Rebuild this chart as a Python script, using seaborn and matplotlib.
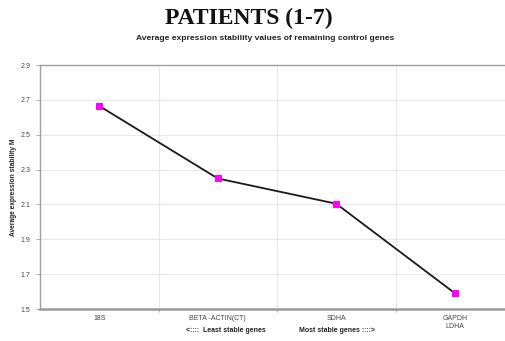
import matplotlib
matplotlib.use("Agg")
import matplotlib.pyplot as plt
import seaborn as sns
import pandas as pd

genes = ["18S", "BETA -ACTIN(CT)", "SDHA", "GAPDH\nLDHA"]
stability_m = [2.665, 2.249, 2.104, 1.591]
y_ticks = [1.5, 1.7, 1.9, 2.1, 2.3, 2.5, 2.7, 2.9]

sns.set_theme(style="white")
plt.rcParams["font.family"] = ["Liberation Sans", "DejaVu Sans"]

df = pd.DataFrame({"gene": genes, "M": stability_m})

fig = plt.figure(figsize=(5.05, 3.41), dpi=100)
ax = fig.add_axes([40 / 505, 1 - 309 / 341, 474 / 505, 244 / 341])

sns.lineplot(data=df, x="gene", y="M", ax=ax, color="#1a1a1a", linewidth=1.3,
             marker="s", markersize=4.5, markerfacecolor="#ff00ff",
             markeredgecolor="#ff00ff", sort=False)

ax.set_xlim(-0.5, 3.5)
ax.set_ylim(1.5, 2.9)
ax.set_yticks(y_ticks)
ax.set_yticklabels([f"{v:.1f}" for v in y_ticks])
ax.set_xticks(range(len(genes)))
ax.set_xticklabels(genes)
ax.set_xticks([0.5, 1.5, 2.5], minor=True)

ax.grid(False)
for v in y_ticks[1:-1]:
    ax.axhline(v, color="#e8e8e8", linewidth=0.8, zorder=0)
for b in [0.5, 1.5, 2.5]:
    ax.axvline(b, color="#e8e8e8", linewidth=0.8, zorder=0)

for side in ["left", "top", "right"]:
    ax.spines[side].set_color("#a0a0a0")
    ax.spines[side].set_linewidth(1.0)
ax.spines["bottom"].set_color("#9a9a9a")
ax.spines["bottom"].set_linewidth(1.8)

ax.tick_params(axis="y", which="major", length=3, width=0.6, color="#a0a0a0",
               labelsize=5, labelcolor="#444444", pad=4, left=True)
ax.tick_params(axis="x", which="major", length=0, labelsize=5,
               labelcolor="#444444", pad=4)
ax.tick_params(axis="x", which="minor", length=2, width=0.6, color="#a0a0a0",
               bottom=True)

ax.set_xlabel("")
ax.set_ylabel("Average expression stability M", fontsize=4.8,
              fontweight="bold", color="#222222")
ax.yaxis.set_label_coords((17 - 40) / 474, 0.5)

fig.text(249 / 505, 1 - 18 / 341, "PATIENTS (1-7)", ha="center", va="center",
         fontsize=17, fontweight="bold", family=["Liberation Serif", "DejaVu Serif"],
         color="#111111")
fig.text(265 / 505, 1 - 39 / 341,
         "Average expression stability values of remaining control genes",
         ha="center", va="center", fontsize=6.1, fontweight="bold",
         color="#222222")
fig.text(226 / 505, 1 - 330 / 341, "<::::  Least stable genes", ha="center",
         va="center", fontsize=5, fontweight="bold", color="#222222")
fig.text(337 / 505, 1 - 330 / 341, "Most stable genes ::::>", ha="center",
         va="center", fontsize=5, fontweight="bold", color="#222222")

fig.savefig("out.png", dpi=100)
